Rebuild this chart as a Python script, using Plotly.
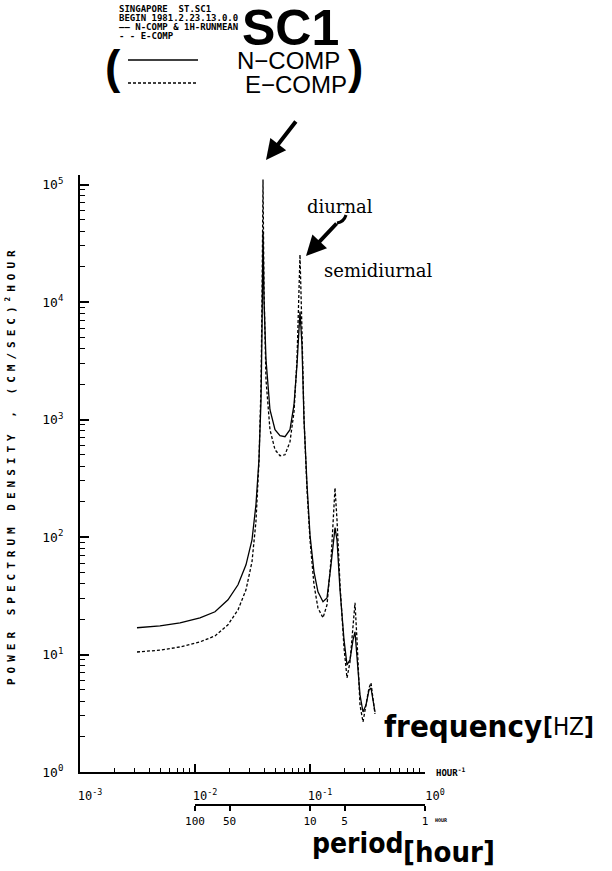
import plotly.graph_objects as go

# ---------------- data ----------------
freq = [0.00313, 0.00496, 0.00741, 0.01105, 0.01493, 0.01936, 0.02366, 0.02776,
        0.03130, 0.03388, 0.03600, 0.03751, 0.03826, 0.03903, 0.03981, 0.04143,
        0.04487, 0.04963, 0.05483, 0.06061, 0.06699, 0.07261, 0.07709, 0.08021,
        0.08185, 0.08511, 0.08872, 0.09419, 0.1000, 0.1083, 0.1173, 0.1297,
        0.1406, 0.1523, 0.1617, 0.1650, 0.1717, 0.1824, 0.1976, 0.2098,
        0.2228, 0.2366, 0.2462, 0.2563, 0.2721, 0.2890, 0.3069, 0.3258,
        0.3391, 0.3530, 0.3674]

n_comp = [16.9, 17.5, 18.6, 20.5, 23.1, 29.2, 39.2, 58.0,
          94.7, 188, 455, 1475, 5820, 39800, 10480, 3231,
          1212, 819, 728, 714, 819, 1337, 2930, 5820,
          8280, 4336, 996, 278, 104, 50.5, 34.1, 28.1,
          30.3, 58.0, 104, 120, 94.7, 35.5, 13.3, 8.15,
          9.0, 13.3, 15.6, 9.92, 4.53, 3.24, 3.72, 4.99,
          5.19, 4.10, 3.24]

e_comp = [10.5, 10.9, 11.6, 12.8, 14.4, 17.9, 24.0, 35.5,
          61.5, 135, 437, 1979, 10480, 110300, 12750, 2183,
          819, 553, 492, 501, 647, 1165, 3231, 11560,
          25330, 5820, 996, 252, 94.7, 39.2, 24.9, 20.5,
          26.5, 64.0, 177, 262, 140, 39.2, 11.4, 6.32,
          8.65, 19.0, 27.5, 13.3, 3.72, 2.67, 3.72, 5.19,
          5.73, 4.10, 3.12]

freq_ticks = [0.001, 0.01, 0.1, 1]
freq_ticktext = ["10<sup>-3</sup>", "10<sup>-2</sup>", "10<sup>-1</sup>", "10<sup>0</sup>"]
psd_ticks = [1, 10, 100, 1000, 10000, 100000]
psd_ticktext = ["10<sup>0</sup>", "10<sup>1</sup>", "10<sup>2</sup>",
                "10<sup>3</sup>", "10<sup>4</sup>", "10<sup>5</sup>"]
period_ticks = [100, 50, 10, 5, 1]
period_ticktext = ["100", "50", "10", "5", "1"]

# ---------------- layout geometry ----------------
W, H = 612, 871
L, R, T, B = 80, 187, 175, 59
PW, PH = W - L - R, H - T - B


def px(x):
    return (x - L) / PW


def py(y):
    return (H - B - y) / PH


MONO = "DejaVu Sans Mono"
COND = "DejaVu Sans Condensed, DejaVu Sans, sans-serif"
K = "black"

fig = go.Figure()
fig.add_trace(go.Scatter(x=freq, y=n_comp, mode="lines", name="N-COMP",
                         line=dict(color=K, width=1.3), showlegend=False))
fig.add_trace(go.Scatter(x=freq, y=e_comp, mode="lines", name="E-COMP",
                         line=dict(color=K, width=1.3, dash="3px,2px"), showlegend=False))
# carrier trace for the period axis
fig.add_trace(go.Scatter(x=[100, 1], y=[1e-6, 1e-6], xaxis="x2", yaxis="y",
                         mode="lines", line=dict(width=0), hoverinfo="skip",
                         showlegend=False))

minor_x = [m * 10 ** e for e in range(-3, 0) for m in range(2, 10)]
minor_y = [m * 10 ** e for e in range(0, 5) for m in range(2, 10)]

fig.update_layout(
    width=W, height=H,
    margin=dict(l=L, r=R, t=T, b=B),
    paper_bgcolor="white", plot_bgcolor="rgba(0,0,0,0)",
    showlegend=False,
    xaxis=dict(type="log", range=[-3, 0], domain=[0, 1], anchor="y",
               showline=True, linecolor=K, linewidth=2, mirror=False,
               ticks="inside", ticklen=8, tickwidth=1.5, tickcolor=K,
               tickmode="array", tickvals=freq_ticks, ticktext=freq_ticktext,
               tickfont=dict(family=MONO, size=12, color=K),
               ticklabelstandoff=12, ticklabelshift=10,
               minor=dict(tickmode="array", tickvals=minor_x, ticks="inside",
                          ticklen=4, tickwidth=1, tickcolor=K, showgrid=False),
               showgrid=False, zeroline=False),
    yaxis=dict(type="log", range=[0, 5.081], domain=[(812 - 772) / PH, 1], anchor="x",
               showline=True, linecolor=K, linewidth=2,
               ticks="inside", ticklen=9, tickwidth=1.5, tickcolor=K,
               tickmode="array", tickvals=psd_ticks, ticktext=psd_ticktext,
               tickfont=dict(family=MONO, size=13, color=K),
               ticklabelstandoff=12,
               minor=dict(tickmode="array", tickvals=minor_y, ticks="inside",
                          ticklen=5, tickwidth=1, tickcolor=K, showgrid=False),
               showgrid=False, zeroline=False),
    xaxis2=dict(type="log", range=[2, 0], domain=[1 / 3, 1], anchor="free",
                position=(812 - 805) / PH,
                showline=True, linecolor=K, linewidth=2,
                ticks="outside", ticklen=5, tickwidth=1.5, tickcolor=K,
                tickmode="array", tickvals=period_ticks, ticktext=period_ticktext,
                tickfont=dict(family=MONO, size=11, color=K),
                ticklabelstandoff=1,
                showgrid=False, zeroline=False),
)

ann = []


def text(x, y, s, size, family=MONO, xanchor="left", yanchor="middle", angle=0):
    ann.append(dict(x=px(x), y=py(y), xref="paper", yref="paper", text=s,
                    showarrow=False, xanchor=xanchor, yanchor=yanchor,
                    textangle=angle,
                    font=dict(family=family, size=size, color=K)))


# header block
text(117, 9, "<b>SINGAPORE  ST.SC1</b>", 9)
text(117, 18, "<b>BEGIN 1981.2.23.13.0.0</b>", 9)
text(117, 27, "<b>—— N-COMP & 1H-RUNMEAN</b>", 9)
text(117, 36, "<b>- - E-COMP</b>", 9)
text(240, 28, "<b>SC1</b>", 50, family="Liberation Sans")

# hand-drawn legend
text(103, 67, "<b>(</b>", 46, family="Liberation Sans")
text(346, 67, "<b>)</b>", 46, family="Liberation Sans")
text(235, 60, "N−COMP", 24, family="Liberation Sans")
text(243, 84, "E−COMP", 24, family="Liberation Sans")

# annotations on the spectrum
text(305, 206, "diurnal", 18, family="DejaVu Serif")
text(322, 270, "semidiurnal", 18, family="DejaVu Serif")

# arrows
for hx, hy, dx, dy in [(266, 160, 31, -40), (306, 256, 32, -34)]:
    ann.append(dict(x=px(hx), y=py(hy), xref="paper", yref="paper", text="",
                    showarrow=True, ax=dx, ay=dy, arrowhead=2, arrowsize=1,
                    arrowwidth=4, arrowcolor=K))

# axis titles
text(382, 726, "<b>frequency</b>", 31, family=COND)
text(541, 727, "<b>[</b>HZ<b>]</b>", 24, family=COND)
text(434, 772, "<b>HOUR<sup>-1</sup></b>", 9)
text(433, 820, "<b>HOUR</b>", 5)
text(310, 843, "<b>period</b>", 28, family=COND)
text(401, 852, "<b>[hour]</b>", 29, family=COND)
text(10, 465, "<span style='letter-spacing:5px'><b>POWER SPECTRUM DENSITY , "
     "(CM/SEC)<sup>2</sup>HOUR</b></span>", 11, xanchor="center", angle=-90)

fig.update_layout(annotations=ann)

# legend sample lines
fig.add_shape(type="line", xref="paper", yref="paper", x0=px(128), x1=px(198),
              y0=py(60), y1=py(60), line=dict(color=K, width=1.5))
fig.add_shape(type="line", xref="paper", yref="paper", x0=px(128), x1=px(198),
              y0=py(83), y1=py(83), line=dict(color=K, width=1.5, dash="3px,2px"))
# small hook at the tail of the semidiurnal arrow
fig.add_shape(type="path", xref="paper", yref="paper",
              path=f"M {px(337)},{py(223)} Q {px(344)},{py(222)} {px(346)},{py(215)}",
              line=dict(color=K, width=3))

fig.write_html("out.html")
